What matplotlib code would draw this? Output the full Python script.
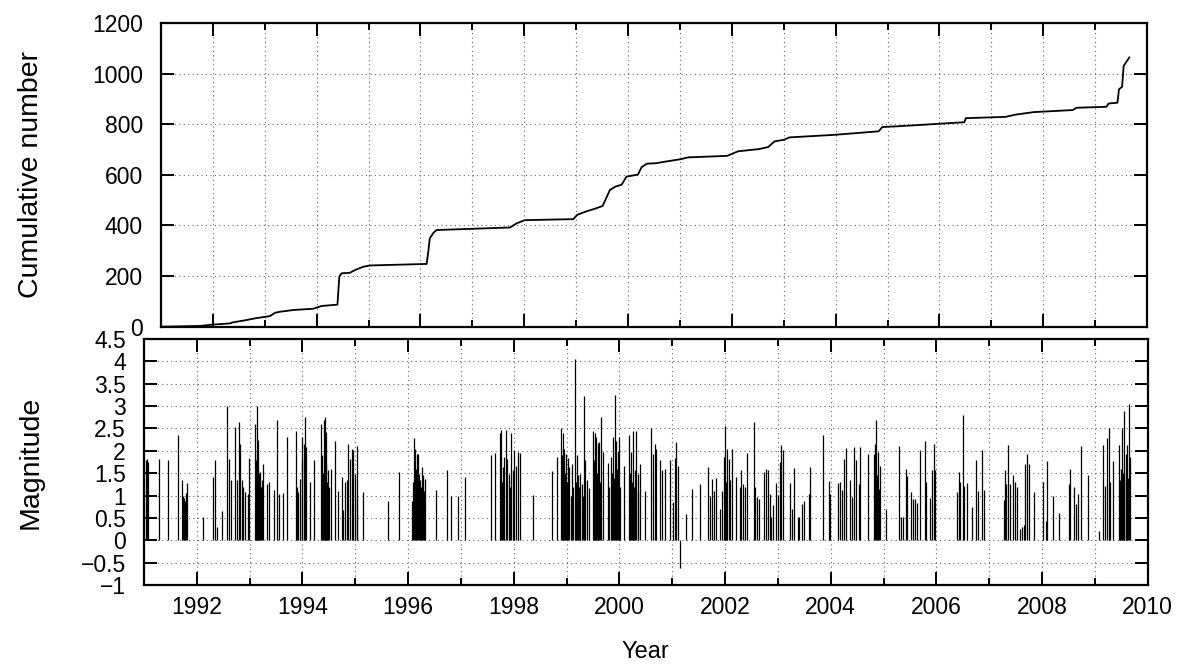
import matplotlib
matplotlib.use('Agg')
import matplotlib.pyplot as plt
from matplotlib.ticker import MultipleLocator, FixedLocator

# cumulative number of events
cum_year = [1991.0, 1991.75, 1991.975, 1992.33, 1992.38, 1992.585, 1992.81, 1993.035,
            1993.10, 1993.197, 1993.29, 1993.55, 1993.935, 1994.095, 1994.40, 1994.436,
            1994.48, 1994.64, 1994.74, 1994.90, 1995.03, 1996.12, 1996.15, 1996.18,
            1996.25, 1996.31, 1997.02, 1997.725, 1997.85, 1998.01, 1998.945, 1999.02,
            1999.20, 1999.33, 1999.51, 1999.65, 1999.75, 1999.875, 1999.97, 2000.19,
            2000.26, 2000.36, 2000.54, 2000.74, 2001.02, 2001.15, 2001.91, 2002.12,
            2002.53, 2002.70, 2002.82, 2003.01, 2003.11, 2003.97, 2004.83, 2004.90,
            2005.21, 2006.48, 2006.51, 2007.27, 2007.47, 2007.82, 2008.57, 2008.64,
            2009.22, 2009.26, 2009.43, 2009.46, 2009.52, 2009.55, 2009.60, 2009.66]
cum_count = [0, 3, 8, 13, 17, 24, 33, 40,
             42, 55, 59, 66, 71, 82, 87, 198,
             211, 213, 224, 237, 242, 248, 296, 349,
             371, 382, 387, 392, 408, 421, 425, 442,
             456, 464, 477, 540, 553, 561, 593, 601,
             630, 644, 646, 653, 662, 669, 675, 693,
             702, 710, 732, 739, 748, 758, 772, 789,
             792, 808, 824, 829, 838, 848, 856, 865,
             869, 882, 885, 938, 948, 1030, 1046, 1064]

# event times and magnitudes
ev_year = [1991.03, 1991.06, 1991.08, 1991.28, 1991.46, 1991.64, 1991.71, 1991.745, 1991.76,
           1991.776, 1991.80, 1991.82, 1992.12, 1992.31, 1992.345, 1992.39, 1992.48, 1992.565,
           1992.60, 1992.64, 1992.72, 1992.755, 1992.79, 1992.82, 1992.85, 1992.88, 1992.91,
           1992.96, 1992.995, 1993.10, 1993.12, 1993.13, 1993.14, 1993.15, 1993.165, 1993.18,
           1993.20, 1993.22, 1993.23, 1993.26, 1993.32, 1993.37, 1993.47, 1993.525, 1993.56,
           1993.64, 1993.715, 1993.88, 1993.90, 1993.92, 1993.955, 1993.986, 1994.00, 1994.02,
           1994.05, 1994.07, 1994.14, 1994.22, 1994.35, 1994.37, 1994.38, 1994.40, 1994.42,
           1994.43, 1994.44, 1994.45, 1994.47, 1994.49, 1994.51, 1994.535, 1994.62, 1994.68,
           1994.74, 1994.775, 1994.81, 1994.84, 1994.87, 1994.90, 1994.93, 1994.965, 1995.00,
           1995.03, 1995.04, 1995.155, 1995.61, 1995.83,
           1996.07, 1996.09, 1996.11, 1996.13, 1996.15, 1996.16, 1996.18, 1996.20, 1996.22,
           1996.24, 1996.27, 1996.29, 1996.30, 1996.32, 1996.52, 1996.73, 1996.815, 1996.95,
           1997.08, 1997.565, 1997.635, 1997.73, 1997.76, 1997.78, 1997.79, 1997.82, 1997.855,
           1997.88, 1997.906, 1997.93, 1997.95, 1997.98, 1998.01, 1998.04, 1998.08, 1998.12,
           1998.36, 1998.72, 1998.815, 1998.90, 1998.915, 1998.93, 1998.945, 1998.96, 1998.975,
           1998.99, 1999.00, 1999.02, 1999.05, 1999.075, 1999.11, 1999.13, 1999.16, 1999.175,
           1999.19, 1999.21, 1999.225, 1999.24, 1999.26, 1999.29, 1999.31, 1999.33, 1999.35,
           1999.38, 1999.415, 1999.50, 1999.515, 1999.53, 1999.54, 1999.55, 1999.57, 1999.585,
           1999.60, 1999.62, 1999.64, 1999.655, 1999.68, 1999.79, 1999.81, 1999.84, 1999.855,
           1999.87, 1999.89, 1999.91, 1999.93, 1999.95, 1999.965, 1999.996, 2000.015, 2000.09,
           2000.19, 2000.205, 2000.22, 2000.24, 2000.255, 2000.27, 2000.286, 2000.32, 2000.343,
           2000.36, 2000.38, 2000.48, 2000.595, 2000.63, 2000.665, 2000.696, 2000.76, 2000.81,
           2000.87, 2000.95, 2001.01, 2001.044, 2001.075, 2001.107, 2001.14, 2001.265, 2001.37,
           2001.53, 2001.67, 2001.71, 2001.75, 2001.795, 2001.83, 2001.91, 2001.94, 2001.97,
           2002.003, 2002.02, 2002.035, 2002.07, 2002.10, 2002.14, 2002.21, 2002.275, 2002.306,
           2002.34, 2002.37, 2002.414, 2002.55, 2002.57, 2002.60, 2002.635, 2002.73, 2002.775,
           2002.805, 2002.843, 2002.875, 2002.906, 2002.97, 2003.00, 2003.03, 2003.06, 2003.095,
           2003.234, 2003.266, 2003.297, 2003.38, 2003.40, 2003.455, 2003.487, 2003.58, 2003.61,
           2003.847, 2003.973, 2003.99, 2004.13, 2004.17, 2004.21, 2004.245, 2004.28, 2004.37,
           2004.40, 2004.446, 2004.48, 2004.535, 2004.56, 2004.70, 2004.81, 2004.84, 2004.86,
           2004.875, 2004.895, 2004.92, 2004.94, 2005.053, 2005.30, 2005.33, 2005.36, 2005.425,
           2005.44, 2005.525, 2005.56, 2005.59, 2005.63, 2005.695, 2005.79, 2005.81, 2005.886,
           2005.92, 2005.96, 2005.98, 2006.39, 2006.42, 2006.455, 2006.50, 2006.53, 2006.58,
           2006.675, 2006.757, 2006.78, 2006.865, 2006.91, 2007.275, 2007.295, 2007.32, 2007.357,
           2007.39, 2007.445, 2007.483, 2007.53, 2007.59, 2007.62, 2007.654, 2007.685, 2007.72,
           2007.75, 2007.855, 2008.013, 2008.08, 2008.096, 2008.205, 2008.32, 2008.513, 2008.537,
           2008.60, 2008.65, 2008.68, 2008.745, 2008.87, 2009.074, 2009.156, 2009.20, 2009.23,
           2009.26, 2009.29, 2009.34, 2009.453, 2009.47, 2009.48, 2009.50, 2009.516, 2009.53,
           2009.548, 2009.56, 2009.58, 2009.59, 2009.61, 2009.625, 2009.64, 2009.66]
ev_mag = [1.80, 1.82, 1.75, 1.82, 1.79, 2.35, 1.35, 1.00, 0.95,
          0.88, 1.05, 1.28, 0.53, 1.41, 1.80, 0.29, 0.65, 3.00,
          1.82, 1.35, 2.54, 1.34, 2.65, 2.15, 1.34, 1.19, 1.07,
          1.03, 1.84, 2.60, 1.80, 3.00, 2.00, 2.24, 1.56, 1.50,
          1.52, 1.20, 1.34, 1.70, 1.26, 1.30, 1.12, 2.70, 1.03,
          1.05, 2.30, 2.45, 1.20, 1.07, 1.37, 2.31, 1.80, 2.16,
          2.76, 2.08, 1.30, 1.80, 2.60, 1.90, 1.50, 2.69, 2.20,
          2.76, 1.70, 2.42, 1.30, 1.56, 1.20, 1.60, 2.22, 1.10,
          1.41, 0.68, 1.30, 1.34, 2.15, 1.82, 2.05, 2.02, 1.49,
          2.10, 1.00, 1.07, 0.88, 1.52,
          0.88, 1.30, 2.28, 2.05, 1.60, 1.94, 1.94, 1.49, 1.35,
          1.20, 1.64, 1.45, 1.10, 1.37, 1.12, 1.58, 0.98, 1.00,
          1.41, 1.90, 1.95, 2.40, 2.46, 1.30, 1.64, 1.86, 2.46,
          1.82, 1.49, 1.20, 2.40, 1.58, 2.01, 1.67, 1.97, 1.96,
          1.02, 1.55, 1.86, 2.52, 1.90, 2.39, 1.60, 2.05, 1.50,
          1.94, 1.30, 1.85, 1.64, 1.00, 1.70, 1.20, 4.05, 1.30,
          1.90, 1.10, 1.45, 1.20, 1.49, 1.26, 1.00, 3.22, 1.79,
          1.34, 1.17, 2.45, 1.80, 2.39, 1.60, 2.31, 1.50, 2.18,
          1.40, 2.20, 1.30, 2.75, 1.97, 1.73, 1.20, 1.87, 1.50,
          2.31, 1.40, 3.25, 2.22, 1.60, 2.00, 2.31, 1.19, 1.67,
          2.35, 1.50, 1.97, 1.30, 2.45, 1.20, 1.56, 2.45, 1.49,
          1.10, 1.71, 1.11, 2.50, 1.94, 2.16, 2.05, 1.80, 1.56,
          1.60, 1.80, 0.85, 1.85, 2.20, 1.67, -0.62, 0.59, 1.15,
          1.25, 1.64, 0.98, 1.37, 1.11, 1.40, 0.70, 1.11, 1.86,
          2.55, 1.30, 2.05, 1.82, 1.34, 2.05, 1.41, 1.19, 1.56,
          1.25, 1.20, 1.95, 2.65, 1.19, 0.96, 0.92, 1.52, 1.60,
          1.58, 1.03, 0.51, 0.78, 1.28, 1.02, 1.75, 2.12, 2.01,
          1.28, 0.70, 1.62, 0.51, 0.51, 0.80, 0.88, 1.03, 1.64,
          2.35, 1.32, 1.03, 1.28, 1.30, 1.12, 1.82, 2.07, 1.35,
          0.96, 2.08, 1.79, 1.25, 2.08, 1.92, 1.94, 2.15, 2.69,
          1.45, 1.97, 1.15, 1.66, 0.70, 2.10, 0.51, 0.51, 1.60,
          1.43, 1.07, 0.92, 0.92, 0.83, 2.02, 2.22, 1.30, 0.95,
          1.58, 2.16, 1.56, 1.07, 1.52, 1.30, 2.81, 1.22, 1.28,
          0.75, 1.80, 1.11, 2.02, 1.12, 0.90, 1.58, 1.26, 2.12,
          1.25, 1.45, 1.30, 1.19, 0.25, 0.29, 0.35, 1.70, 1.94,
          1.70, 1.07, 1.30, 0.44, 1.77, 0.98, 0.60, 1.26, 1.60,
          1.19, 0.81, 1.03, 2.10, 1.47, 0.21, 2.12, 1.22, 2.28,
          2.50, 1.30, 1.77, 2.12, 1.20, 1.34, 1.60, 2.50, 1.50,
          2.90, 1.30, 1.94, 1.50, 2.12, 1.40, 3.04, 1.86]

year_ticks = [1992, 1994, 1996, 1998, 2000, 2002, 2004, 2006, 2008, 2010]
year_labels = ['1992', '1994', '1996', '1998', '2000', '2002', '2004', '2006', '2008', '2010']
cum_ticks = [0, 200, 400, 600, 800, 1000, 1200]
mag_ticks = [-1, -0.5, 0, 0.5, 1, 1.5, 2, 2.5, 3, 3.5, 4, 4.5]
mag_labels = ['\u22121', '\u22120.5', '0', '0.5', '1', '1.5', '2', '2.5', '3', '3.5', '4', '4.5']

plt.rcParams['font.family'] = ['Liberation Sans', 'DejaVu Sans']
plt.rcParams['font.size'] = 16.5

fig = plt.figure(figsize=(11.89, 6.66), dpi=100)
# the two panels have different left margins, as in the original
ax1 = fig.add_axes([161 / 1189, 1 - 326.7 / 666, (1147 - 161) / 1189, (326.7 - 23) / 666])
ax2 = fig.add_axes([144 / 1189, 1 - 585 / 666, (1147.7 - 144) / 1189, (585 - 339) / 666])


def style(ax):
    ax.tick_params(which='both', direction='in', top=True, right=True, width=1.4, colors='black')
    ax.tick_params(which='major', length=9.5)
    ax.tick_params(which='minor', length=5)
    ax.tick_params(axis='y', pad=13)
    ax.tick_params(axis='x', pad=8)
    for s in ax.spines.values():
        s.set_linewidth(1.6)
    ax.xaxis.set_major_locator(FixedLocator(year_ticks))
    ax.xaxis.set_minor_locator(MultipleLocator(1))
    ax.grid(True, which='both', color='#666666', linestyle=(0, (1, 3)), linewidth=0.8)
    ax.set_axisbelow(True)
    ax.set_xlim(1991, 2010)


# upper panel: cumulative number
ax1.plot(cum_year, cum_count, color='black', linewidth=1.3)
style(ax1)
ax1.set_ylim(0, 1200)
ax1.set_yticks(cum_ticks)
ax1.set_yticklabels([str(v) for v in cum_ticks])
ax1.set_xticklabels([])

# lower panel: magnitudes as impulses
ax2.vlines(ev_year, 0, ev_mag, color='black', linewidth=0.9)
style(ax2)
ax2.set_ylim(-1, 4.5)
ax2.set_yticks(mag_ticks)
ax2.set_yticklabels(mag_labels)
ax2.set_xticklabels(year_labels)

fig.text(31 / 1189, 1 - 175 / 666, 'Cumulative number', rotation=90, ha='center', va='center',
         fontsize=20.5)
fig.text(31 / 1189, 1 - 462 / 666, 'Magnitude', rotation=90, ha='center', va='center',
         fontsize=20.5)
fig.text(645.5 / 1189, 1 - 652 / 666, 'Year', ha='center', va='center', fontsize=17)

fig.savefig('out.png', dpi=100)
